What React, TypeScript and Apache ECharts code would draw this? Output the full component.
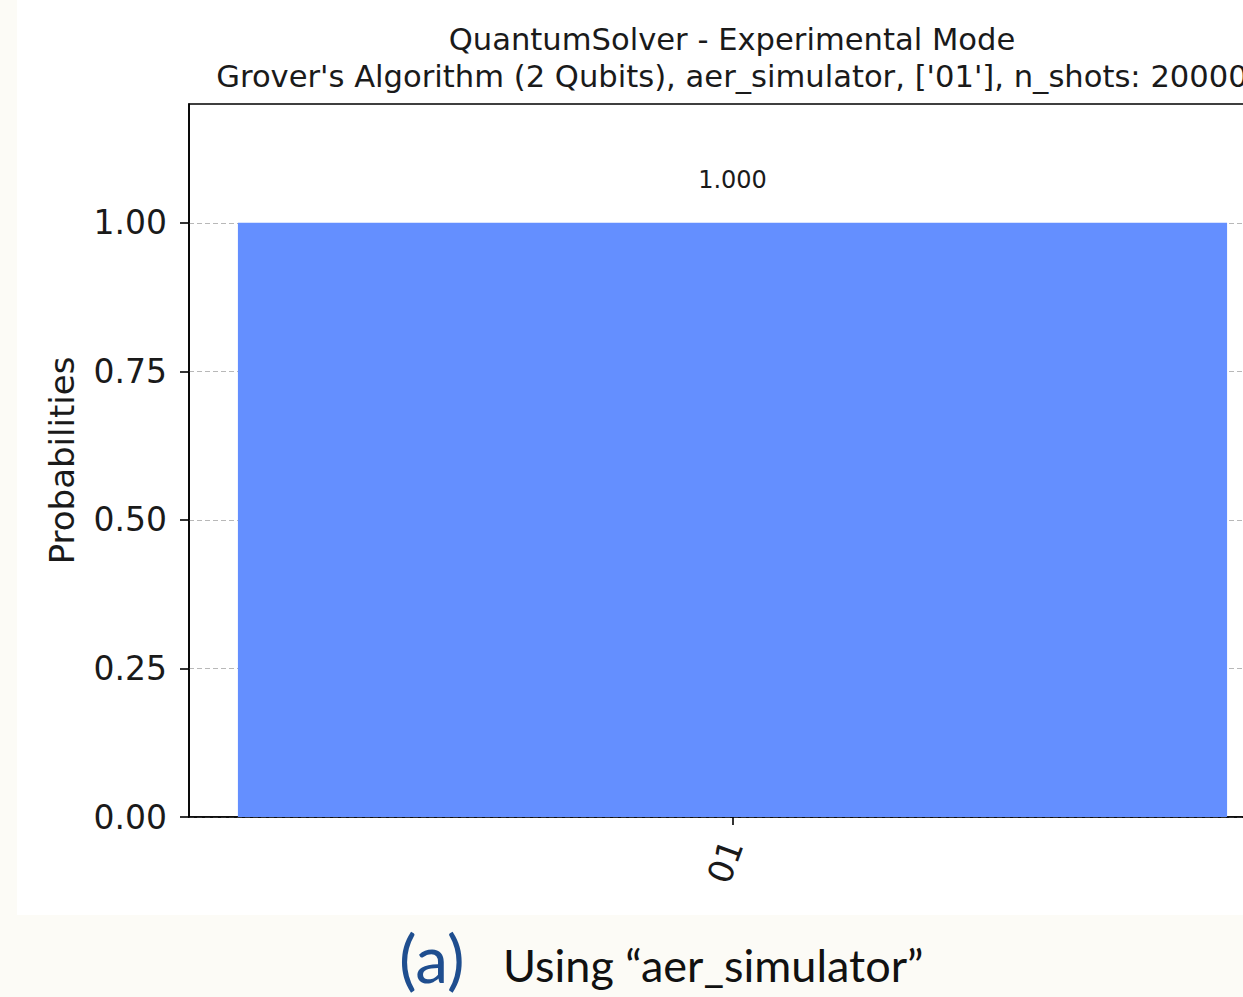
import React, { useEffect, useRef } from "react";
import * as echarts from "echarts";

const categories = ["01"];
const probabilities = [1.0];
const yTicks = [0, 0.25, 0.5, 0.75, 1.0];
const titleLine1 = "QuantumSolver - Experimental Mode";
const titleLine2 = "Grover's Algorithm (2 Qubits), aer_simulator, ['01'], n_shots: 20000";
const yAxisName = "Probabilities";
const captionLabel = "(a)";
const captionText = "Using \u201Caer_simulator\u201D";

export default function App() {
  const ref = useRef<HTMLDivElement>(null);
  useEffect(() => {
    if (!ref.current) return;
    const chart = echarts.init(ref.current, null, { renderer: "svg" });
    const font = "DejaVu Sans";
    chart.setOption({
      animation: false,
      backgroundColor: "#fcfbf6",
      graphic: [
        { type: "rect", z: -10, shape: { x: 17, y: 0, width: 1300, height: 915 }, style: { fill: "#ffffff" } },
        { type: "text", x: 732, y: 39, style: { text: titleLine1, fontFamily: font, fontSize: 30.6, fill: "#1a1a1a", align: "center", verticalAlign: "middle" } },
        { type: "text", x: 732, y: 76, style: { text: titleLine2, fontFamily: font, fontSize: 30.6, fill: "#1a1a1a", align: "center", verticalAlign: "middle" } },
        { type: "text", x: 399, y: 957, style: { text: captionLabel, fontFamily: "Lato", fontSize: 66, fill: "#1f4e8f", align: "left", verticalAlign: "middle" } },
        { type: "text", x: 503, y: 965, style: { text: captionText, fontFamily: "Lato", fontSize: 45, fill: "#111111", align: "left", verticalAlign: "middle" } },
      ],
      grid: {
        left: 189,
        top: 104,
        right: 4,
        bottom: 180,
        show: true,
        borderColor: "#000",
        borderWidth: 1.6,
        backgroundColor: "transparent",
      },
      xAxis: {
        type: "category",
        data: categories,
        axisLine: { show: true, lineStyle: { color: "#000", width: 1.6 } },
        axisTick: { show: true, alignWithLabel: true, length: 8, lineStyle: { color: "#000", width: 1.6 } },
        axisLabel: { rotate: 70, fontSize: 34, fontFamily: font, color: "#1a1a1a", margin: 24 },
        splitLine: { show: false },
      },
      yAxis: {
        type: "value",
        min: 0,
        max: 1.2,
        interval: 0.25,
        name: yAxisName,
        nameLocation: "middle",
        nameGap: 110,
        nameTextStyle: { fontSize: 34, fontFamily: font, color: "#1a1a1a" },
        axisLine: { show: true, lineStyle: { color: "#000", width: 1.6 } },
        axisTick: { show: true, length: 9, customValues: yTicks, lineStyle: { color: "#000", width: 1.6 } },
        axisLabel: {
          fontSize: 33,
          fontFamily: font,
          color: "#1a1a1a",
          margin: 22,
          customValues: yTicks,
          formatter: (v: number) => v.toFixed(2),
        },
        splitLine: { show: true, lineStyle: { color: "#b8b8b8", width: 1.2, type: [5, 3] } },
      },
      series: [
        {
          type: "bar",
          data: probabilities,
          barWidth: "91%",
          itemStyle: { color: "#648fff" },
          label: {
            show: true,
            position: "top",
            distance: 31,
            fontSize: 24,
            fontFamily: font,
            color: "#1a1a1a",
            formatter: (p: any) => Number(p.value).toFixed(3),
          },
        },
      ],
    });
    return () => chart.dispose();
  }, []);
  return (
    <div style={{ position: "fixed", left: 0, top: 0, width: 1243, height: 997, overflow: "hidden", background: "#fcfbf6" }}>
      <div ref={ref} style={{ width: 1280, height: 997 }} />
    </div>
  );
}
